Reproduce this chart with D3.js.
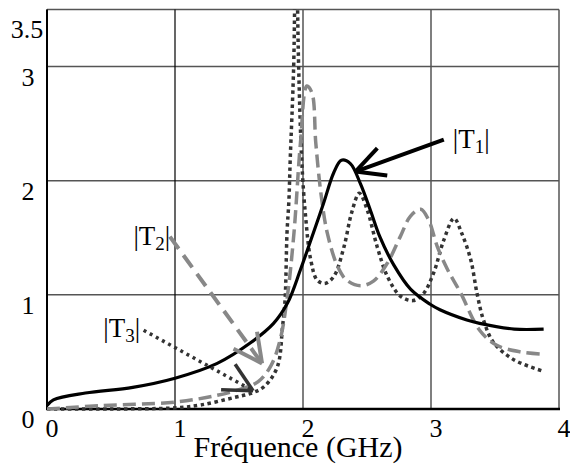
<!DOCTYPE html>
<html>
<head>
<meta charset="utf-8">
<script src="https://cdn.jsdelivr.net/npm/d3@7"></script>
<style>
  body { margin: 0; background: #fff; }
</style>
</head>
<body>
<svg id="chart" width="570" height="465"></svg>
<script>
// |T1| solid black
var t1X = [0, 0.05, 0.3, 0.67, 1.0, 1.33, 1.59, 1.77, 1.88, 1.98, 2.08, 2.16, 2.24, 2.30, 2.37, 2.45, 2.53, 2.60, 2.71, 2.84, 2.99, 3.07, 3.28, 3.38, 3.65, 3.88];
var t1Y = [0.03, 0.08, 0.14, 0.19, 0.27, 0.40, 0.58, 0.75, 0.93, 1.22, 1.54, 1.80, 2.07, 2.18, 2.15, 1.97, 1.73, 1.51, 1.26, 1.05, 0.92, 0.87, 0.78, 0.75, 0.70, 0.70];
// |T2| grey dashed
var t2X = [0, 0.42, 1.0, 1.33, 1.5, 1.65, 1.75, 1.82, 1.875, 1.93, 1.98, 2.03, 2.07, 2.10, 2.14, 2.19, 2.27, 2.34, 2.45, 2.55, 2.66, 2.76, 2.84, 2.92, 2.98, 3.05, 3.13, 3.23, 3.38, 3.51, 3.70, 3.88];
var t2Y = [0.0, 0.03, 0.06, 0.12, 0.17, 0.24, 0.38, 0.60, 0.96, 1.55, 2.33, 2.83, 2.77, 2.33, 1.89, 1.54, 1.25, 1.13, 1.08, 1.12, 1.28, 1.51, 1.69, 1.75, 1.66, 1.42, 1.22, 1.02, 0.69, 0.56, 0.50, 0.48];
// |T3| dark dotted
var t3X = [0, 0.5, 1.0, 1.2, 1.46, 1.6, 1.7, 1.80, 1.84, 1.86, 1.875, 1.89, 1.90, 1.927, 1.945, 1.966, 1.99, 2.02, 2.06, 2.11, 2.17, 2.24, 2.32, 2.38, 2.44, 2.50, 2.58, 2.66, 2.76, 2.86, 2.94, 3.02, 3.10, 3.18, 3.24, 3.31, 3.36, 3.41, 3.49, 3.65, 3.88];
var t3Y = [0, 0, 0.01, 0.035, 0.10, 0.14, 0.20, 0.37, 0.72, 0.96, 1.54, 1.83, 2.18, 3.0, 4.2, 3.0, 2.18, 1.69, 1.31, 1.13, 1.10, 1.16, 1.42, 1.72, 1.89, 1.75, 1.42, 1.16, 0.99, 0.95, 1.01, 1.19, 1.48, 1.67, 1.54, 1.31, 1.01, 0.78, 0.58, 0.43, 0.33];

var xTicks = [0, 1, 2, 3, 4];
var yTicks = [0, 1, 2, 3];
var yTop = 3.5;
var xTitle = "Fréquence (GHz)";
var serif = "'Liberation Serif', 'Times New Roman', Times, 'DejaVu Serif', serif";

var svg = d3.select("#chart");
var x = d3.scaleLinear().domain([0, 4]).range([47, 559]);
var y = d3.scaleLinear().domain([0, yTop]).range([409, 9.5]);

// grid
svg.selectAll(".gy").data(yTicks.concat([yTop])).enter().append("line")
  .attr("x1", x(0)).attr("x2", x(4)).attr("y1", function(d){return y(d);}).attr("y2", function(d){return y(d);})
  .attr("stroke", "#555").attr("stroke-width", 1.5);
svg.selectAll(".gx").data(xTicks).enter().append("line")
  .attr("y1", y(0)).attr("y2", y(yTop)).attr("x1", function(d){return x(d);}).attr("x2", function(d){return x(d);})
  .attr("stroke", function(d){ return d==1 ? "#000" : "#555"; }).attr("stroke-width", function(d){ return d==1 ? 1.2 : 1.5; });
// axes lines
svg.append("line").attr("x1", x(0)).attr("x2", x(0)).attr("y1", y(0)).attr("y2", y(yTop)).attr("stroke", "#000").attr("stroke-width", 2);
svg.append("line").attr("x1", x(0)-1).attr("x2", x(4)+1).attr("y1", y(0)).attr("y2", y(0)).attr("stroke", "#000").attr("stroke-width", 2.5);

// tick labels
svg.selectAll(".yl").data(yTicks).enter().append("text")
  .attr("x", 28).attr("y", function(d){return y(d)+19;}).attr("text-anchor", "middle")
  .attr("font-family", serif).attr("font-size", 26).text(function(d){return d;});
svg.append("text").attr("x", 27).attr("y", y(yTop)+28).attr("text-anchor", "middle")
  .attr("font-family", serif).attr("font-size", 26).text(yTop);
svg.selectAll(".xl").data(xTicks).enter().append("text")
  .attr("x", function(d){return x(d)+5;}).attr("y", 437).attr("text-anchor", "middle")
  .attr("font-family", serif).attr("font-size", 26).text(function(d){return d;});
svg.append("text").attr("x", 298).attr("y", 457).attr("text-anchor", "middle")
  .attr("font-family", serif).attr("font-size", 30).text(xTitle);

// curves
svg.append("clipPath").attr("id", "clip").append("rect")
  .attr("x", x(0)).attr("y", y(yTop)).attr("width", x(4)-x(0)).attr("height", y(0)-y(yTop)+2);
var line = d3.line().x(function(d){return x(d[0]);}).y(function(d){return y(d[1]);}).curve(d3.curveCatmullRom.alpha(0.5));
var g = svg.append("g").attr("clip-path", "url(#clip)");
g.append("path").datum(d3.zip(t3X, t3Y)).attr("d", line).attr("fill", "none")
  .attr("stroke", "#333").attr("stroke-width", 3.5).attr("stroke-dasharray", "3.5,3.5");
g.append("path").datum(d3.zip(t2X, t2Y)).attr("d", line).attr("fill", "none")
  .attr("stroke", "#888").attr("stroke-width", 3.5).attr("stroke-dasharray", "13,6");
g.append("path").datum(d3.zip(t1X, t1Y)).attr("d", line).attr("fill", "none")
  .attr("stroke", "#000").attr("stroke-width", 3.2);

// annotations: label position, arrow tail and tip in data units
var notes = [
  {sub: "1", lx: 3.17, ly: 2.29, tail: [3.10, 2.36], tip: [2.41, 2.08], color: "#000", dash: null, w: 4},
  {sub: "2", lx: 0.675, ly: 1.44, tail: [0.96, 1.51], tip: [1.68, 0.40], color: "#888", dash: "15,8", w: 4},
  {sub: "3", lx: 0.44, ly: 0.63, tail: [0.755, 0.69], tip: [1.61, 0.16], color: "#333", dash: "3,4", w: 3.5}
];
notes.forEach(function(n){
  var tx = x(n.tip[0]), ty = y(n.tip[1]), sx = x(n.tail[0]), sy = y(n.tail[1]);
  svg.append("line").attr("x1", sx).attr("y1", sy).attr("x2", tx).attr("y2", ty)
    .attr("stroke", n.color).attr("stroke-width", n.w).attr("stroke-dasharray", n.dash);
  var a = Math.atan2(sy - ty, sx - tx), len = 32, half = 27 * Math.PI / 180;
  [a - half, a + half].forEach(function(b){
    svg.append("line").attr("x1", tx).attr("y1", ty)
      .attr("x2", tx + len*Math.cos(b)).attr("y2", ty + len*Math.sin(b))
      .attr("stroke", n.color).attr("stroke-width", n.w);
  });
  var t = svg.append("text").attr("x", x(n.lx)).attr("y", y(n.ly))
    .attr("font-family", serif).attr("font-size", 27);
  t.append("tspan").text("|T");
  t.append("tspan").attr("dy", 5).attr("font-size", 19).text(n.sub);
  t.append("tspan").attr("dy", -5).text("|");
});
</script>
</body>
</html>
